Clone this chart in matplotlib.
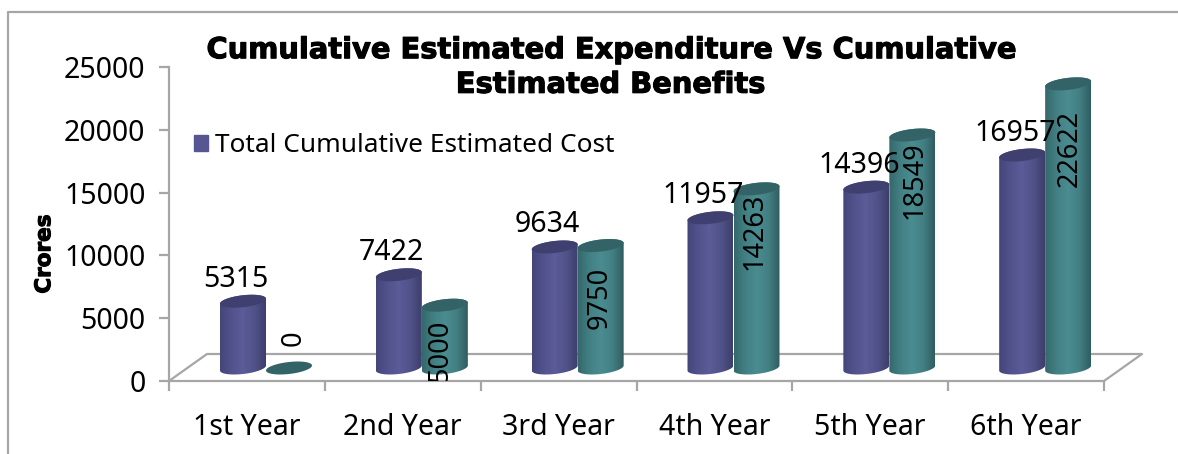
import numpy as np
import matplotlib
matplotlib.use("Agg")
import matplotlib.pyplot as plt
import matplotlib.patheffects as pe
from matplotlib.patches import Patch, PathPatch
from matplotlib.path import Path
from matplotlib.colors import LinearSegmentedColormap
from matplotlib.lines import Line2D

plt.rcParams["font.family"] = ["Noto Sans", "DejaVu Sans"]

years = ["1st Year", "2nd Year", "3rd Year", "4th Year", "5th Year", "6th Year"]
estimated_cost = [5315, 7422, 9634, 11957, 14396, 16957]
estimated_benefits = [0, 5000, 9750, 14263, 18549, 22622]
y_ticks = [0, 5000, 10000, 15000, 20000, 25000]

W, H = 1178, 454
dpi = 100

# label nudges in pixels, from the picture
cost_dx, cost_dy = -7, 22
benefit_dx = [5, -5, -1, -2, 2, 2]
benefit_dy = [30, -46, -52, -43, -45, -65]

fig = plt.figure(figsize=(W / dpi, H / dpi), dpi=dpi)
ax = fig.add_axes([169 / W, 1 - 381 / H, 935 / W, 314 / H])
ax.set_xlim(0, 6)
ax.set_ylim(0, 25000)
ax.patch.set_alpha(0)

grey = "#a6a6a6"
x_px = 6 / 935.0      # category units per pixel
y_px = 25000 / 314.0  # value units per pixel

# 3d look: the bars stand on a floor above the front axis
base = 13 * y_px
bar_w = 46 * x_px
ry = 6 * y_px
skew = 2.5 * y_px


def ellipse(cx, cy, n=80):
    t = np.linspace(0, 2 * np.pi, n)
    return np.column_stack([cx + bar_w / 2 * np.cos(t),
                            cy + ry * np.sin(t) + skew * np.cos(t)])


def cylinder(x0, value, cmap, top_color):
    cx = x0 + bar_w / 2
    y0 = base
    y1 = base + value
    if value > 0:
        t = np.linspace(np.pi, 2 * np.pi, 40)
        low = np.column_stack([cx + bar_w / 2 * np.cos(t),
                               y0 + ry * np.sin(t) + skew * np.cos(t)])
        t = np.linspace(0, np.pi, 40)
        up = np.column_stack([cx + bar_w / 2 * np.cos(t),
                              y1 + ry * np.sin(t) + skew * np.cos(t)])
        verts = np.vstack([low, up, low[:1]])
        clip = PathPatch(Path(verts), transform=ax.transData, fc="none", ec="none")
        ax.add_patch(clip)
        im = ax.imshow(np.linspace(0, 1, 128).reshape(1, -1), cmap=cmap, aspect="auto",
                       extent=[x0, x0 + bar_w, 0, 25000], zorder=3)
        im.set_clip_path(clip)
    ax.fill(*ellipse(cx, y1).T, color=top_color, lw=0, zorder=3.1)
    return cx, y1


purple = LinearSegmentedColormap.from_list("p", ["#44457a", "#52538d", "#5b5c98", "#515289", "#3d3e6c"])
teal = LinearSegmentedColormap.from_list("t", ["#35686b", "#428084", "#4b8c91", "#428084", "#2f5d60"])

for i in range(len(years)):
    split = i + 97 * x_px
    cx, top = cylinder(split - bar_w, estimated_cost[i], purple, "#3f4070")
    ax.annotate(str(estimated_cost[i]), (cx, top), xytext=(cost_dx, cost_dy),
                textcoords="offset pixels", ha="center", va="center",
                fontsize=20.5, zorder=5)
    cx, top = cylinder(split, estimated_benefits[i], teal, "#336366")
    ax.annotate(str(estimated_benefits[i]), (cx, top), xytext=(benefit_dx[i], benefit_dy[i]),
                textcoords="offset pixels", ha="center", va="center", rotation=90,
                fontsize=19.5, zorder=5, annotation_clip=False, clip_on=True)

ax.set_xlim(0, 6)
ax.set_ylim(0, 25000)

# floor of the 3d box
depth_x = 38 * x_px
depth_y = 27 * y_px
ax.plot([0, depth_x, 6 + depth_x, 6], [0, depth_y, depth_y, 0], color=grey, lw=1.6,
        zorder=1, clip_on=False)

for side in ["top", "right"]:
    ax.spines[side].set_visible(False)
for side in ["left", "bottom"]:
    ax.spines[side].set_color(grey)
    ax.spines[side].set_linewidth(1.6)

ax.set_yticks(y_ticks)
ax.set_xticks(range(7))
ax.set_xticklabels([])
ax.set_xticks(np.arange(6) + 0.5, labels=years, minor=True)
ax.tick_params(axis="x", which="major", length=7.5, width=1.6, color=grey)
ax.tick_params(axis="x", which="minor", length=0, labelsize=20.5, pad=23)
ax.tick_params(axis="y", length=7, width=1.6, color=grey, labelsize=20.5, pad=10)

ax.set_ylabel("Crores", fontsize=15.5, fontweight="bold", family="DejaVu Sans",
              path_effects=[pe.withStroke(linewidth=0.8, foreground="black")])
ax.yaxis.set_label_coords((43 - 169) / 935 + 0.012, (381 - 254) / 314)

fig.text(610 / W, 1 - 67.5 / H, "Cumulative Estimated Expenditure Vs Cumulative\nEstimated Benefits",
         ha="center", va="center", fontsize=20.8, fontweight="bold", family="DejaVu Sans",
         linespacing=1.3, path_effects=[pe.withStroke(linewidth=0.8, foreground="black")])

handle = Patch(color="#565792", label="Total Cumulative Estimated Cost")
ax.legend(handles=[handle], loc="center left", bbox_to_anchor=(25 / 935, (381 - 146) / 314),
          frameon=False, fontsize=18.9, handlelength=0.55, handleheight=0.55,
          handletextpad=0.25, borderpad=0, borderaxespad=0)

# outer chart frame
fig.add_artist(Line2D([7.5 / W, 7.5 / W, 1], [0, 1 - 12 / H, 1 - 12 / H], color=grey, lw=1.6))

fig.savefig("out.png", dpi=dpi)
